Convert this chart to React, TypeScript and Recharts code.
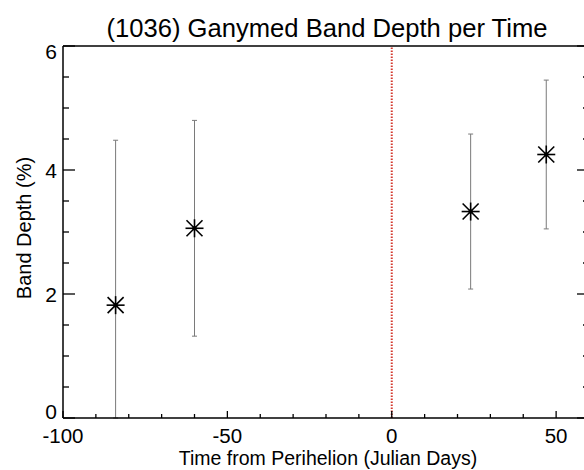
import { ScatterChart, Scatter, XAxis, YAxis, ErrorBar, ReferenceLine } from 'recharts';

const times = [-84, -60, 24, 47];
const depths = [1.82, 3.06, 3.33, 4.25];
const depthErrors = [2.66, 1.74, 1.25, 1.2];

const xTicks = [-100, -90, -80, -70, -60, -50, -40, -30, -20, -10, 0, 10, 20, 30, 40, 50, 60];
const xLabels = [-100, -50, 0, 50];
const yTicks = [0, 0.5, 1, 1.5, 2, 2.5, 3, 3.5, 4, 4.5, 5, 5.5, 6];
const yLabels = [0, 2, 4, 6];

const data = times.map((t, i) => ({ time: t, depth: depths[i], err: depthErrors[i] }));

// error bars are cut at the bottom of the frame (y = 0)
const errorExtent = (d: any) => [Math.min(d.err, d.depth), d.err];

const FONT = '"Liberation Sans", Arial, Helvetica, sans-serif';
const AXIS = { stroke: '#000', strokeWidth: 1.5 };

function BottomTick({ x, y, payload }: any) {
  const v = payload.value;
  const major = xLabels.includes(v);
  return (
    <g>
      <line x1={x} y1={y} x2={x} y2={y - (major ? 7 : 4)} stroke="#000" strokeWidth={1.3} />
      {major && (
        <text x={x} y={y + 25} textAnchor="middle" fontSize={20.5} fontFamily={FONT} fill="#000">
          {v}
        </text>
      )}
    </g>
  );
}

function TopTick({ x, y, payload }: any) {
  const major = xLabels.includes(payload.value);
  return <line x1={x} y1={y} x2={x} y2={y + (major ? 7 : 4)} stroke="#000" strokeWidth={1.3} />;
}

function LeftTick({ x, y, payload }: any) {
  const v = payload.value;
  const major = yLabels.includes(v);
  // end labels are pulled inside the frame like the original
  const dy = v === 0 ? 1 : v === 6 ? 13 : 7.5;
  return (
    <g>
      <line x1={x} y1={y} x2={x + (major ? 12 : 6)} y2={y} stroke="#000" strokeWidth={1.3} />
      {major && (
        <text x={x - 6} y={y + dy} textAnchor="end" fontSize={21} fontFamily={FONT} fill="#000">
          {v}
        </text>
      )}
    </g>
  );
}

function RightTick({ x, y, payload }: any) {
  const major = yLabels.includes(payload.value);
  return <line x1={x} y1={y} x2={x - (major ? 12 : 6)} y2={y} stroke="#000" strokeWidth={1.3} />;
}

function Asterisk({ cx, cy }: any) {
  const r = 9;
  const d = 8;
  return (
    <g stroke="#000" strokeWidth={1.6}>
      <line x1={cx - r} y1={cy} x2={cx + r} y2={cy} />
      <line x1={cx} y1={cy - r} x2={cx} y2={cy + r} />
      <line x1={cx - d} y1={cy - d} x2={cx + d} y2={cy + d} />
      <line x1={cx - d} y1={cy + d} x2={cx + d} y2={cy - d} />
      <circle cx={cx} cy={cy} r={1.5} fill="#000" />
    </g>
  );
}

const TitleLabel = ({ viewBox }: any) => (
  <text x={327} y={viewBox.y + viewBox.height - 9} textAnchor="middle" fontSize={25.6} fontFamily={FONT} fill="#000">
    (1036) Ganymed Band Depth per Time
  </text>
);

const XLabel = ({ viewBox }: any) => (
  <text x={328} y={viewBox.y + 47} textAnchor="middle" fontSize={19.5} fontFamily={FONT} fill="#000">
    Time from Perihelion (Julian Days)
  </text>
);

const YLabel = ({ viewBox }: any) => {
  const x = viewBox.x + viewBox.width - 32;
  const y = viewBox.y + viewBox.height / 2 - 4;
  return (
    <text x={x} y={y} transform={`rotate(-90, ${x}, ${y})`} textAnchor="middle" fontSize={20} fontFamily={FONT} fill="#000">
      Band Depth (%)
    </text>
  );
};

export default function App() {
  return (
    <div style={{ position: 'absolute', left: 0, top: 0, width: 584, height: 470, overflow: 'hidden', background: '#fff' }}>
      <ScatterChart width={600} height={470} margin={{ top: 45, right: 10, bottom: 51, left: 62 }}>
        <XAxis
          xAxisId="b"
          type="number"
          dataKey="time"
          domain={[-100, 60]}
          ticks={xTicks}
          interval={0}
          height={1}
          tickSize={0}
          tickMargin={0}
          tickLine={false}
          tick={BottomTick}
          axisLine={AXIS}
          allowDataOverflow
          label={{ content: XLabel }}
        />
        <XAxis
          xAxisId="t"
          orientation="top"
          type="number"
          domain={[-100, 60]}
          ticks={xTicks}
          interval={0}
          height={1}
          tickSize={0}
          tickMargin={0}
          tickLine={false}
          tick={TopTick}
          axisLine={AXIS}
          allowDataOverflow
          label={{ content: TitleLabel }}
        />
        <YAxis
          yAxisId="l"
          type="number"
          dataKey="depth"
          domain={[0, 6]}
          ticks={yTicks}
          interval={0}
          width={1}
          tickSize={0}
          tickMargin={0}
          tickLine={false}
          tick={LeftTick}
          axisLine={AXIS}
          allowDataOverflow
          label={{ content: YLabel }}
        />
        <YAxis
          yAxisId="r"
          orientation="right"
          type="number"
          domain={[0, 6]}
          ticks={yTicks}
          interval={0}
          width={1}
          tickSize={0}
          tickMargin={0}
          tickLine={false}
          tick={RightTick}
          axisLine={AXIS}
          allowDataOverflow
        />
        <ReferenceLine xAxisId="b" yAxisId="l" x={0} stroke="#d43a2f" strokeWidth={2} strokeDasharray="1.5 1.5" />
        <Scatter xAxisId="b" yAxisId="l" data={data} dataKey="depth" shape={Asterisk} isAnimationActive={false}>
          <ErrorBar dataKey={errorExtent} direction="y" width={2.5} stroke="#7a7a7a" strokeWidth={1} isAnimationActive={false} />
        </Scatter>
      </ScatterChart>
    </div>
  );
}
